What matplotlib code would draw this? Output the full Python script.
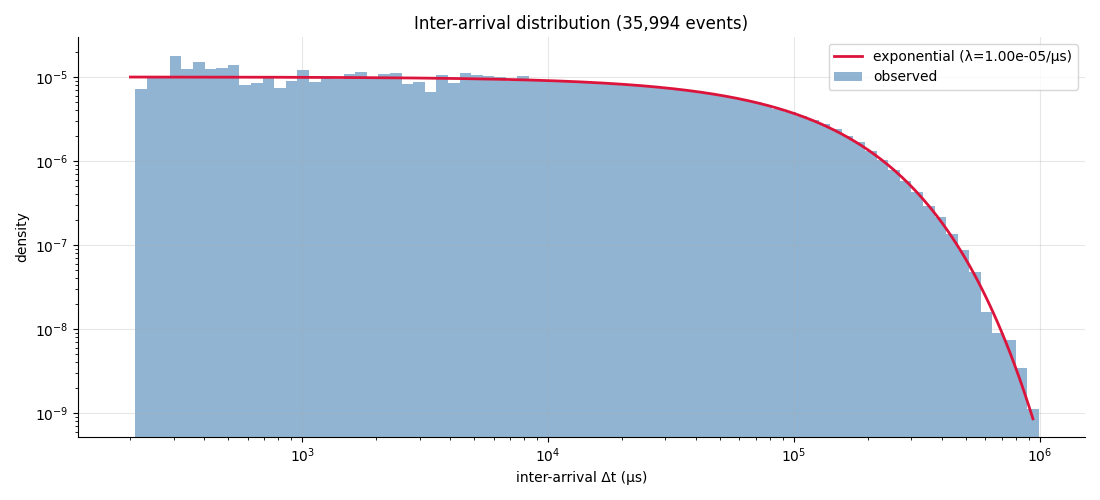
import matplotlib
matplotlib.use('Agg')
import matplotlib.pyplot as plt
import numpy as np

# histogram: 78 log-spaced bins between the smallest and largest gap
n_events = 35994
bin_lo = 209.0
bin_hi = 9.9e5
n_bins = 78

# observed density per bin
density = [
    7.2e-6, 1.0e-5, 1.0e-5, 1.78e-5, 1.24e-5, 1.51e-5, 1.24e-5, 1.28e-5, 1.39e-5, 8.0e-6,
    8.5e-6, 1.0e-5, 7.4e-6, 8.95e-6, 1.21e-5, 8.7e-6, 9.9e-6, 9.5e-6, 1.09e-5, 1.15e-5,
    9.4e-6, 1.09e-5, 1.12e-5, 8.3e-6, 8.7e-6, 6.6e-6, 1.06e-5, 8.5e-6, 1.12e-5, 1.06e-5,
    1.03e-5, 9.9e-6, 8.96e-6, 1.03e-5, 9.15e-6, 9.0e-6, 8.96e-6, 8.8e-6, 8.74e-6, 8.55e-6,
    8.46e-6, 8.25e-6, 8.12e-6, 7.88e-6, 7.72e-6, 7.45e-6, 7.25e-6, 6.93e-6, 6.70e-6, 6.36e-6,
    6.08e-6, 5.70e-6, 5.38e-6, 4.98e-6, 4.64e-6, 4.20e-6, 3.84e-6, 3.45e-6, 3.08e-6, 2.75e-6,
    2.39e-6, 1.99e-6, 1.66e-6, 1.32e-6, 1.03e-6, 7.8e-7, 5.7e-7, 4.3e-7, 2.9e-7, 2.15e-7,
    1.35e-7, 8.7e-8, 4.77e-8, 1.61e-8, 9.0e-9, 7.4e-9, 3.46e-9, 1.12e-9,
]

# fitted exponential
lam = 1.00e-5  # per microsecond
fit_lo = 200.0
fit_hi = 9.37e5

edges = np.logspace(np.log10(bin_lo), np.log10(bin_hi), n_bins + 1)
t = np.logspace(np.log10(fit_lo), np.log10(fit_hi), 400)
pdf = lam * np.exp(-lam * t)

fig = plt.figure(figsize=(11, 5), dpi=100)
ax = fig.add_axes([0.071, 0.126, 0.915, 0.8])

ax.bar(edges[:-1], density, width=np.diff(edges), align='edge',
       color='steelblue', alpha=0.6, linewidth=0, label='observed')
ax.plot(t, pdf, color='crimson', linewidth=2,
        label=f'exponential (λ={lam:.2e}/µs)')

ax.set_xscale('log')
ax.set_yscale('log')
ax.set_xlim(122.5, 1.52e6)
ax.set_ylim(5.18e-10, 2.99e-5)

ax.spines['top'].set_visible(False)
ax.spines['right'].set_visible(False)
ax.grid(True, which='major', alpha=0.3)

ax.set_title(f'Inter-arrival distribution ({n_events:,} events)')
ax.set_xlabel('inter-arrival Δt (µs)')
ax.set_ylabel('density')
ax.legend(loc='upper right')

fig.savefig('out.png')
